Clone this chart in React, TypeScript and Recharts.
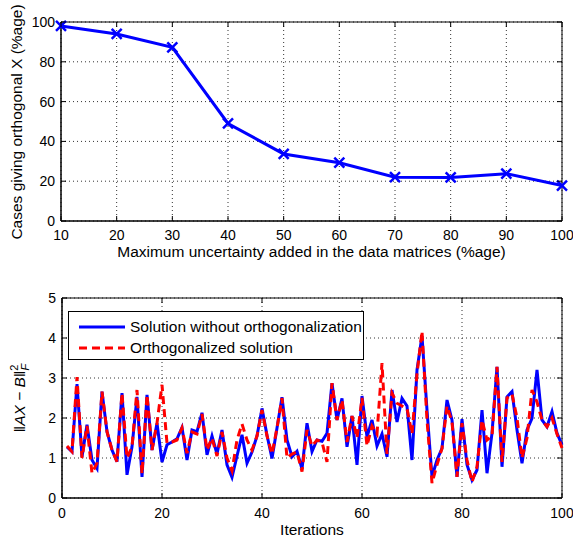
import { LineChart, Line, XAxis, YAxis, CartesianGrid, ReferenceArea, Legend } from "recharts";

const FONT = '"Liberation Sans", Arial, Helvetica, sans-serif';

// top panel
const uncertainty = [10, 20, 30, 40, 50, 60, 70, 80, 90, 100];
const orthogonalCases = [98, 94, 87.3, 49, 33.7, 29.3, 22, 21.9, 23.8, 17.8];
const uncertaintyTicks = [10, 20, 30, 40, 50, 60, 70, 80, 90, 100];
const percentTicks = [0, 20, 40, 60, 80, 100];

// bottom panel
const iterations = Array.from({ length: 100 }, (_, i) => i + 1);
const plainError = [
  1.28, 1.16, 2.85, 1.03, 1.83, 0.95, 0.74, 2.66, 1.66, 1.2,
  0.91, 2.62, 0.58, 1.28, 2.53, 0.53, 2.58, 1.2, 1.87, 0.9,
  1.33, 1.4, 1.48, 1.76, 0.95, 1.7, 1.66, 2.13, 1.08, 1.55,
  1.1, 1.7, 0.83, 0.52, 1.05, 1.58, 0.87, 1.15, 1.55, 2.24,
  1.57, 0.99, 1.75, 2.52, 1.45, 1.03, 1.17, 0.72, 1.87, 1.16,
  1.45, 1.42, 1.62, 2.87, 1.95, 2.49, 1.28, 2.05, 0.83, 2.55,
  1.53, 1.95, 1.3, 1.6, 1.03, 2.7, 1.9, 2.49, 2.3, 0.95,
  3.2, 4.05, 2.2, 0.53, 0.95, 1.24, 2.45, 1.95, 0.53, 1.97,
  0.83, 0.45, 0.7, 2.2, 0.62, 1.62, 3.28, 0.78, 2.53, 2.66,
  1.7, 0.87, 1.7, 1.99, 3.2, 1.95, 1.78, 2.16, 1.62, 1.33,
];
const orthoError = [
  1.3, 1.16, 3.02, 1.0, 1.8, 0.62, 0.87, 2.66, 1.66, 1.2,
  0.91, 2.62, 1.0, 1.28, 2.7, 0.6, 2.58, 1.2, 1.87, 2.83,
  1.37, 1.4, 1.45, 1.75, 1.12, 1.65, 1.6, 2.1, 1.2, 1.5,
  1.05, 1.65, 1.0, 0.68, 1.45, 1.85, 1.45, 1.2, 1.55, 2.2,
  1.55, 1.1, 1.75, 2.5, 1.0, 1.1, 1.15, 0.66, 1.7, 1.3,
  1.45, 1.4, 0.9, 2.87, 1.95, 2.45, 1.4, 2.05, 1.5, 2.5,
  1.3, 1.8, 1.6, 3.37, 1.1, 2.62, 2.37, 2.3, 2.24, 1.6,
  3.1, 4.17, 1.95, 0.37, 0.83, 1.24, 2.3, 1.9, 0.53, 1.87,
  0.95, 0.4, 0.78, 1.95, 1.45, 1.55, 3.28, 0.9, 2.5, 2.6,
  2.0, 1.0, 1.5, 2.7, 2.4, 1.95, 1.78, 2.0, 1.6, 1.25,
];
const iterationTicks = [0, 20, 40, 60, 80, 100];
const errorTicks = [0, 1, 2, 3, 4, 5];
const legendOrder = ["plain", "ortho"];

const topData = uncertainty.map((u, i) => ({ u, cases: orthogonalCases[i] }));
const bottomData = iterations.map((it, i) => ({ it, plain: plainError[i], ortho: orthoError[i] }));

// matlab style ticks: pointing inwards on all four sides
function XTick({ x, y, payload, plotHeight, labelDy }: any) {
  return (
    <g>
      <line x1={x} y1={y} x2={x} y2={y - 5} stroke="#000" />
      <line x1={x} y1={y - plotHeight} x2={x} y2={y - plotHeight + 5} stroke="#000" />
      <text x={x} y={y + labelDy} textAnchor="middle" fontSize={14} fontFamily={FONT} fill="#000">
        {payload.value}
      </text>
    </g>
  );
}

function YTick({ x, y, payload, plotWidth }: any) {
  return (
    <g>
      <line x1={x} y1={y} x2={x + 5} y2={y} stroke="#000" />
      <line x1={x + plotWidth} y1={y} x2={x + plotWidth - 5} y2={y} stroke="#000" />
      <text x={x - 6} y={y + 5} textAnchor="end" fontSize={14} fontFamily={FONT} fill="#000">
        {payload.value}
      </text>
    </g>
  );
}

function CrossDot({ cx, cy }: any) {
  if (cx == null || cy == null) return null;
  const r = 5;
  return (
    <g>
      <line x1={cx - r} y1={cy - r} x2={cx + r} y2={cy + r} stroke="#0000ff" strokeWidth={2.5} />
      <line x1={cx - r} y1={cy + r} x2={cx + r} y2={cy - r} stroke="#0000ff" strokeWidth={2.5} />
    </g>
  );
}

function TopYTitle() {
  return (
    <text transform="translate(22, 122) rotate(-90)" textAnchor="middle" fontSize={15.5} fontFamily={FONT} fill="#000">
      Cases giving orthogonal X (%age)
    </text>
  );
}

function BottomYTitle() {
  return (
    <text transform="translate(25, 128) rotate(-90)" textAnchor="middle" fontSize={15.5} fontFamily={FONT} fill="#000">
      <tspan>‖</tspan>
      <tspan fontStyle="italic">AX</tspan>
      <tspan> − </tspan>
      <tspan fontStyle="italic">B</tspan>
      <tspan>‖</tspan>
      <tspan fontSize={11} dy={-7}>2</tspan>
      <tspan fontSize={11} fontStyle="italic" dx={-6} dy={11}>F</tspan>
    </text>
  );
}

function LegendBox({ payload }: any) {
  const entries = legendOrder
    .map((key) => (payload || []).find((e: any) => e.dataKey === key))
    .filter(Boolean);
  return (
    <div
      style={{
        border: "1px solid #000",
        background: "#fff",
        width: 294,
        height: 43,
        paddingTop: 4,
        fontFamily: FONT,
        fontSize: 15.5,
        color: "#000",
      }}
    >
      {entries.map((entry: any) => (
        <div key={entry.value} style={{ display: "flex", alignItems: "center", height: 21, whiteSpace: "nowrap" }}>
          <svg width={46} height={8} style={{ marginLeft: 10, flexShrink: 0 }}>
            <line
              x1={0}
              y1={4}
              x2={46}
              y2={4}
              stroke={entry.color}
              strokeWidth={3}
              strokeDasharray={entry.dataKey === "ortho" ? "8 5" : undefined}
            />
          </svg>
          <span style={{ marginLeft: 5 }}>{entry.value}</span>
        </div>
      ))}
    </div>
  );
}

export default function App() {
  return (
    <div style={{ position: "absolute", left: 0, top: 0, width: 573, height: 539, background: "#fff" }}>
      <LineChart width={573} height={270} data={topData} margin={{ top: 22, right: 11, left: 0, bottom: 0 }}>
        <CartesianGrid stroke="#333" strokeDasharray="1 3" />
        <XAxis
          dataKey="u"
          type="number"
          domain={[10, 100]}
          ticks={uncertaintyTicks}
          interval={0}
          height={49}
          tickSize={0}
          tickMargin={0}
          tickLine={false}
          stroke="#000"
          tick={(p: any) => <XTick {...p} plotHeight={199} labelDy={19} />}
          label={{
            value: "Maximum uncertainty added in the data matrices (%age)",
            position: "insideBottom",
            offset: 13,
            style: { fontSize: 15.5, fontFamily: FONT, fill: "#000" },
          }}
        />
        <YAxis
          type="number"
          domain={[0, 100]}
          ticks={percentTicks}
          interval={0}
          width={61}
          tickSize={0}
          tickMargin={0}
          tickLine={false}
          stroke="#000"
          tick={(p: any) => <YTick {...p} plotWidth={501} />}
          label={<TopYTitle />}
        />
        <ReferenceArea x1={10} x2={100} y1={0} y2={100} fill="none" stroke="#000" strokeWidth={1} />
        <Line
          dataKey="cases"
          type="linear"
          stroke="#0000ff"
          strokeWidth={3}
          dot={<CrossDot />}
          activeDot={false}
          isAnimationActive={false}
        />
      </LineChart>
      <LineChart width={573} height={269} data={bottomData} margin={{ top: 28, right: 11, left: 0, bottom: 0 }}>
        <CartesianGrid stroke="#333" strokeDasharray="1 3" />
        <XAxis
          dataKey="it"
          type="number"
          domain={[0, 100]}
          ticks={iterationTicks}
          interval={0}
          height={41}
          tickSize={0}
          tickMargin={0}
          tickLine={false}
          stroke="#000"
          tick={(p: any) => <XTick {...p} plotHeight={200} labelDy={20} />}
          label={{
            value: "Iterations",
            position: "insideBottom",
            offset: 4,
            style: { fontSize: 15.5, fontFamily: FONT, fill: "#000" },
          }}
        />
        <YAxis
          type="number"
          domain={[0, 5]}
          ticks={errorTicks}
          interval={0}
          width={62}
          tickSize={0}
          tickMargin={0}
          tickLine={false}
          stroke="#000"
          tick={(p: any) => <YTick {...p} plotWidth={500} />}
          label={<BottomYTitle />}
        />
        <ReferenceArea x1={0} x2={100} y1={0} y2={5} fill="none" stroke="#000" strokeWidth={1} />
        <Legend
          layout="vertical"
          align="center"
          verticalAlign="middle"
          content={<LegendBox />}
          wrapperStyle={{ left: 68, top: 41, width: "auto", height: "auto" }}
        />
        <Line
          dataKey="plain"
          name="Solution without orthogonalization"
          type="linear"
          stroke="#0000ff"
          strokeWidth={3}
          dot={false}
          activeDot={false}
          isAnimationActive={false}
        />
        <Line
          dataKey="ortho"
          name="Orthogonalized solution"
          type="linear"
          stroke="#ff0000"
          strokeWidth={3}
          strokeDasharray="8 5"
          dot={false}
          activeDot={false}
          isAnimationActive={false}
        />
      </LineChart>
    </div>
  );
}
